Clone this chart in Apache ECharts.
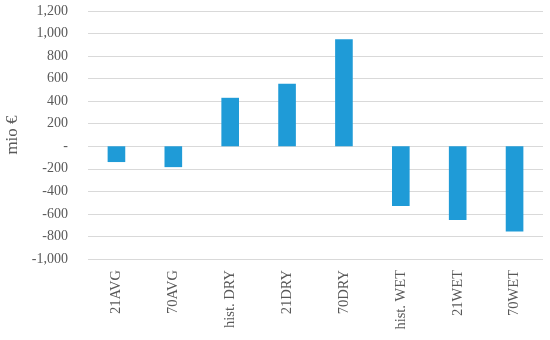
<!DOCTYPE html>
<html><head><meta charset="utf-8">
<script src="https://cdn.jsdelivr.net/npm/echarts@6/dist/echarts.min.js"></script>
<style>html,body{margin:0;padding:0;background:#fff}#c{width:550px;height:340px}</style>
</head><body><div id="c"></div>
<script>
const categories = ["21AVG","70AVG","hist. DRY","21DRY","70DRY","hist. WET","21WET","70WET"];
const values = [-140, -185, 430, 555, 950, -530, -655, -755];
const yTitle = "mio €";
const font = "'Liberation Serif', 'DejaVu Serif', serif";
const chart = echarts.init(document.getElementById('c'));
chart.setOption({
  animation: false,
  grid: {left: 88, right: 7, top: 11, bottom: 81, containLabel: false, outerBoundsMode: 'none'},
  xAxis: {
    type: 'category', data: categories,
    axisLine: {show: false}, axisTick: {show: false},
    axisLabel: {rotate: 90, color: '#595959', fontFamily: font, fontSize: 14.5, margin: 11}
  },
  yAxis: {
    type: 'value', min: -1000, max: 1200, interval: 200,
    name: yTitle, nameLocation: 'middle', nameGap: 66,
    nameTextStyle: {color: '#595959', fontFamily: font, fontSize: 17},
    axisLine: {show: false}, axisTick: {show: false},
    splitLine: {lineStyle: {color: '#d9d9d9', width: 1}},
    axisLabel: {color: '#595959', fontFamily: font, fontSize: 14, margin: 20,
      formatter: v => v === 0 ? '-' : v.toLocaleString('en-US')}
  },
  series: [{type: 'bar', data: values, barWidth: '31%', itemStyle: {color: '#1f9bd7'}}]
});
</script></body></html>
